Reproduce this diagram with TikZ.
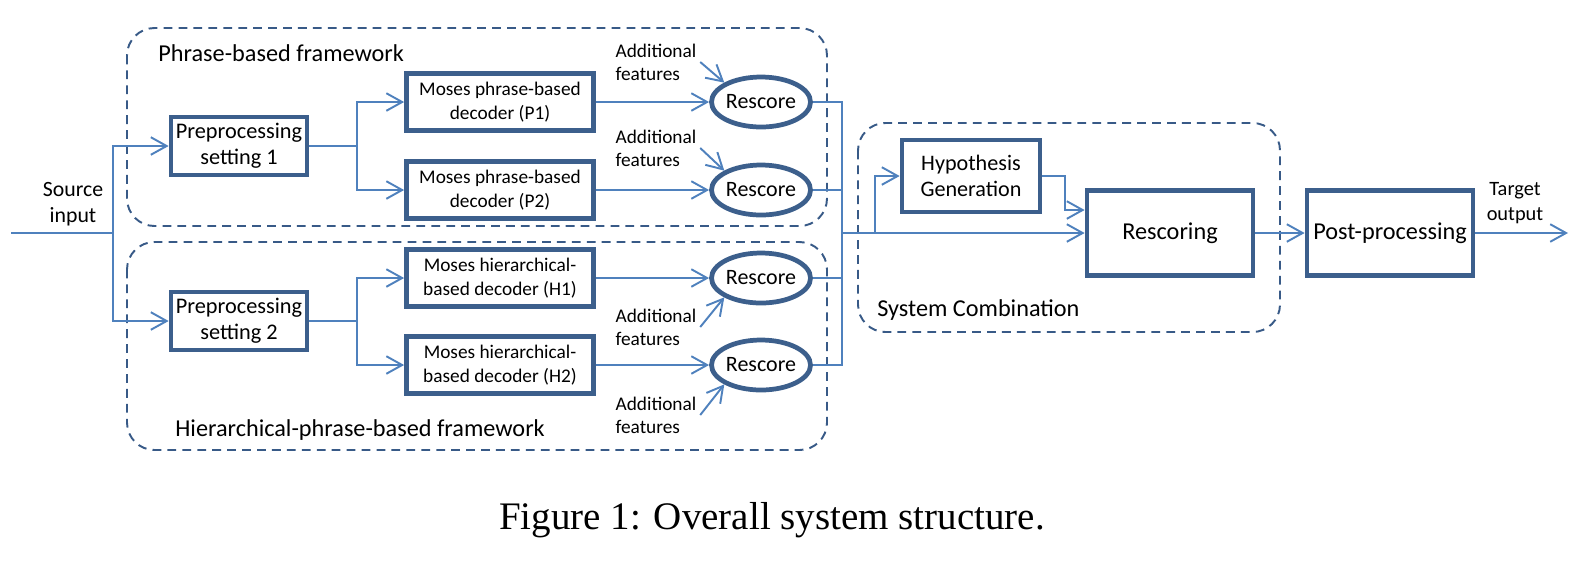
\documentclass[tikz,border=0pt]{standalone}
\usepackage{fontspec}
\setmainfont{Carlito}
\newfontfamily\capfont{Liberation Serif}
\usetikzlibrary{arrows.meta,shapes.geometric,positioning}
\definecolor{linkblue}{RGB}{79,129,189}
\definecolor{boxblue}{RGB}{60,95,140}
\definecolor{dashblue}{RGB}{56,90,135}

\begin{document}
\begin{tikzpicture}[x=0.02cm,y=-0.02cm,
  block/.style={draw=boxblue, line width=2.7pt, fill=white, align=center, inner sep=0pt},
  prepbox/.style={block, minimum width=2.72cm, minimum height=1.16cm, font=\fontsize{12.7}{14.7}\selectfont},
  decbox/.style={block, minimum width=3.74cm, minimum height=1.14cm, font=\fontsize{11}{13.6}\selectfont},
  combbox/.style={block, minimum width=3.32cm, minimum height=1.7cm, font=\fontsize{13.8}{16}\selectfont},
  rescore/.style={ellipse, draw=boxblue, line width=2.7pt, fill=white, inner sep=0pt,
    minimum width=1.8cm, minimum height=1.0cm, font=\fontsize{12.5}{14}\selectfont},
  addf/.style={align=left, inner sep=2pt, font=\fontsize{11}{13}\selectfont},
  frame/.style={draw=dashblue, line width=1.1pt, dash pattern=on 5pt off 3.5pt, rounded corners=0.55cm},
  framelabel/.style={anchor=west, inner sep=0pt, font=\fontsize{13.8}{16}\selectfont},
  conn/.style={draw=linkblue, line width=1.1pt},
  arrow/.style={conn, -{Straight Barb[length=9pt,width=10pt,line width=1.1pt]}}]
\useasboundingbox (0,0) rectangle (1596,576);

\draw[frame] (127,28) rectangle (827,226);
\draw[frame] (127,242) rectangle (827,450);
\draw[frame] (858,123) rectangle (1280,332);
\node[framelabel] (phrlabel) at (158,53) {Phrase-based framework};
\node[framelabel] (hierlabel) at (175,430) {Hierarchical-phrase-based framework};
\node[framelabel] (comblabel) at (877,310) {System Combination};

\node[align=center, font=\fontsize{12.4}{14.5}\selectfont] (source) at (73,204) {Source\\input};
\node[align=center, font=\fontsize{11.6}{14}\selectfont] (target) at (1515,203) {Target\\output};

\node[prepbox] (prep1) at (239,146) {Preprocessing\\setting 1};
\node[prepbox] (prep2) at (239,321) {Preprocessing\\setting 2};
\node[decbox] (p1) at (500,102) {Moses phrase-based\\decoder (P1)};
\node[decbox] (p2) at (500,190) {Moses phrase-based\\decoder (P2)};
\node[decbox] (h1) at (500,278) {Moses hierarchical-\\based decoder (H1)};
\node[decbox] (h2) at (500,365) {Moses hierarchical-\\based decoder (H2)};
\foreach \n/\y in {r1/102,r2/190,r3/278,r4/365}
  \node[rescore] (\n) at (761,\y) {Rescore};
\foreach \n/\y in {a1/62,a2/148,a3/327,a4/415}
  \node[addf] (\n) at (656,\y) {Additional\\features};

\node[block, minimum width=2.76cm, minimum height=1.44cm, font=\fontsize{12.6}{15}\selectfont] (hyp) at (971,176) {Hypothesis\\Generation};
\node[combbox] (rescoring) at (1170,233) {Rescoring};
\node[combbox] (post) at (1390,233) {Post-processing};

\coordinate (src) at (11,233);
\coordinate (fork) at (113,233);
\coordinate (s1) at (357,146);
\coordinate (s2) at (357,321);
\coordinate (col) at (842,233);
\coordinate (br) at (875,233);
\coordinate (tgt) at (1568,233);

\draw[conn] (src) -- (fork);
\draw[arrow] (fork) |- (prep1);
\draw[arrow] (fork) |- (prep2);
\draw[conn] (prep1) -- (s1);
\draw[conn] (prep2) -- (s2);
\draw[arrow] (s1) |- (p1);
\draw[arrow] (s1) |- (p2);
\draw[arrow] (s2) |- (h1);
\draw[arrow] (s2) |- (h2);
\foreach \d/\r in {p1/r1,p2/r2,h1/r3,h2/r4}
  \draw[arrow] (\d) -- (\r);
\foreach \a/\r/\c in {a1/r1/north west,a2/r2/north west,a3/r3/south west,a4/r4/south west}
  \draw[arrow] (\a.east) -- (\r.\c);
\foreach \r in {r1,r2,r3,r4}
  \draw[conn] (\r.east) -| (col);
\draw[arrow] (col) -- (rescoring);
\draw[arrow] (br) |- (hyp);
\draw[arrow] (hyp.east) -- ++(23,0) |- ([yshift=0.46cm]rescoring.west);
\draw[arrow] (rescoring) -- (post);
\draw[arrow] (post) -- (tgt);

\node[font=\capfont\fontsize{22.2}{26}\selectfont] (caption) at (772,520) {Figure 1: Overall system structure.};
\end{tikzpicture}
\end{document}
